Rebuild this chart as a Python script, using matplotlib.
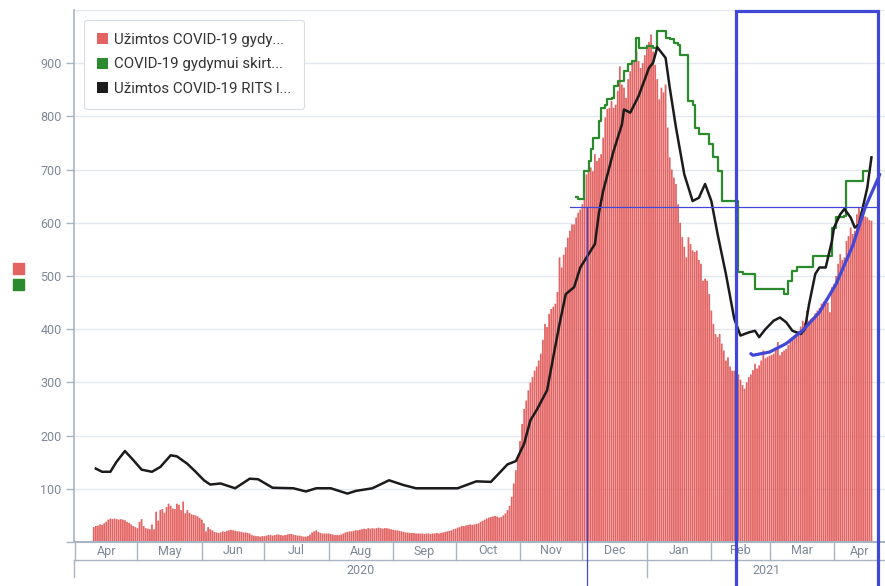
import matplotlib.pyplot as plt
import pandas as pd
from matplotlib.patches import Patch, Rectangle
from matplotlib.transforms import blended_transform_factory

plt.rcParams['font.family'] = ['Roboto', 'DejaVu Sans']

# daily occupied COVID-19 beds (red bars), one list per month, first bar on 2020-04-10
first_day = "2020-04-10"
occ_2020_04 = [28, 30, 31, 33, 32, 35, 38, 42, 44, 43, 44, 43, 42, 43, 42, 41, 38, 36, 33, 30, 28]
occ_2020_05 = [26, 38, 43, 30, 26, 25, 24, 33, 24, 57, 40, 60, 62, 55, 66, 72, 68, 63, 62, 72,
               70, 60, 76, 54, 60, 55, 52, 51, 50, 48, 45]
occ_2020_06 = [42, 35, 20, 28, 24, 22, 19, 18, 17, 18, 20, 19, 21, 22, 23, 22, 21, 20, 20, 19,
               18, 18, 17, 16, 13, 12, 11, 11, 10, 11]
occ_2020_07 = [11, 12, 13, 13, 12, 13, 14, 14, 13, 12, 13, 14, 15, 15, 14, 13, 12, 12, 11, 10,
               10, 11, 14, 18, 20, 22, 19, 17, 16, 16, 16]
occ_2020_08 = [16, 15, 14, 13, 13, 13, 14, 16, 18, 19, 20, 20, 21, 22, 22, 23, 24, 25, 24, 26,
               25, 26, 25, 26, 27, 26, 25, 26, 26, 25, 24]
occ_2020_09 = [23, 22, 22, 21, 20, 19, 18, 18, 17, 17, 17, 16, 16, 16, 16, 15, 16, 16, 15, 16,
               16, 17, 16, 17, 18, 19, 20, 21, 22, 24]
occ_2020_10 = [25, 27, 28, 30, 30, 31, 32, 33, 32, 33, 34, 35, 38, 40, 42, 44, 46, 47, 48, 49,
               48, 46, 47, 50, 54, 60, 68, 85, 110, 135, 160]
occ_2020_11 = [190, 222, 250, 266, 285, 300, 310, 322, 330, 341, 354, 380, 410, 404, 429, 438,
               442, 448, 470, 535, 516, 540, 554, 572, 585, 597, 597, 610, 619, 625]
occ_2020_12 = [635, 645, 691, 698, 704, 697, 729, 716, 722, 729, 760, 798, 814, 816, 829, 816,
               822, 848, 894, 860, 854, 835, 870, 885, 897, 905, 922, 904, 891, 900, 915]
occ_2021_01 = [929, 940, 954, 922, 897, 870, 832, 854, 845, 860, 779, 723, 700, 685, 673, 635,
               600, 573, 555, 535, 573, 560, 548, 545, 548, 530, 523, 491, 495, 491, 466]
occ_2021_02 = [435, 410, 391, 385, 391, 373, 360, 341, 347, 330, 322, 322, 318, 315, 305, 295,
               288, 300, 310, 315, 323, 335, 326, 332, 341, 360, 345, 348]
occ_2021_03 = [350, 352, 354, 365, 376, 351, 357, 360, 363, 370, 379, 385, 388, 392, 397, 405,
               416, 412, 435, 416, 420, 422, 430, 435, 440, 448, 452, 457, 450, 432, 479]
occ_2021_04 = [485, 500, 523, 541, 530, 535, 566, 575, 591, 579, 585, 616, 629, 620, 616, 612,
               610, 605, 604]

# occupied ICU (RITS) beds, black line
icu_dates = ["2020-04-11", "2020-04-14", "2020-04-18", "2020-04-21", "2020-04-25", "2020-04-29",
             "2020-05-03", "2020-05-08", "2020-05-12", "2020-05-17", "2020-05-20", "2020-05-25",
             "2020-05-29", "2020-06-02", "2020-06-05", "2020-06-10", "2020-06-17", "2020-06-24",
             "2020-06-28", "2020-07-05", "2020-07-15", "2020-07-21", "2020-07-26", "2020-08-02",
             "2020-08-10", "2020-08-14", "2020-08-22", "2020-08-30", "2020-09-06", "2020-09-12",
             "2020-10-02", "2020-10-11", "2020-10-18", "2020-10-26", "2020-10-30", "2020-11-03",
             "2020-11-06", "2020-11-09", "2020-11-14", "2020-11-17", "2020-11-20", "2020-11-23",
             "2020-11-27", "2020-11-30", "2020-12-03", "2020-12-07", "2020-12-09", "2020-12-11",
             "2020-12-16", "2020-12-20", "2020-12-21", "2020-12-24", "2020-12-28", "2021-01-02",
             "2021-01-04", "2021-01-06", "2021-01-10", "2021-01-12", "2021-01-15", "2021-01-19",
             "2021-01-23", "2021-01-26", "2021-01-29", "2021-02-01", "2021-02-04", "2021-02-08",
             "2021-02-12", "2021-02-15", "2021-02-19", "2021-02-22", "2021-02-24", "2021-02-27",
             "2021-03-03", "2021-03-06", "2021-03-09", "2021-03-12", "2021-03-16", "2021-03-18",
             "2021-03-20", "2021-03-23", "2021-03-25", "2021-03-28", "2021-03-31", "2021-04-01",
             "2021-04-04", "2021-04-06", "2021-04-09", "2021-04-11", "2021-04-13", "2021-04-17",
             "2021-04-19"]
icu_values = [138, 132, 132, 151, 171, 154, 136, 132, 141, 163, 161, 147, 132, 116, 108, 110,
              101, 119, 118, 102, 101, 95, 101, 101, 91, 96, 101, 116, 107, 101, 101, 114, 113,
              146, 152, 185, 229, 248, 285, 348, 410, 466, 479, 516, 535, 560, 620, 660, 735,
              785, 813, 807, 838, 891, 901, 930, 910, 854, 779, 691, 641, 647, 673, 641, 579,
              504, 420, 388, 394, 397, 385, 400, 416, 422, 413, 397, 391, 400, 447, 504, 516,
              516, 566, 591, 616, 626, 610, 591, 597, 666, 723]

# beds allocated to COVID-19 treatment, green step line (value holds until next date)
alloc_dates = ["2020-11-28", "2020-11-29", "2020-12-02", "2020-12-04", "2020-12-05", "2020-12-06",
               "2020-12-09", "2020-12-10", "2020-12-12", "2020-12-13", "2020-12-15", "2020-12-16",
               "2020-12-18", "2020-12-21", "2020-12-23", "2020-12-25", "2020-12-27", "2020-12-28",
               "2021-01-01", "2021-01-04", "2021-01-06", "2021-01-10", "2021-01-12", "2021-01-14",
               "2021-01-16", "2021-01-17", "2021-01-21", "2021-01-23", "2021-01-24", "2021-01-26",
               "2021-01-31", "2021-02-02", "2021-02-04", "2021-02-06", "2021-02-14", "2021-02-16",
               "2021-02-22", "2021-03-08", "2021-03-10", "2021-03-12", "2021-03-14", "2021-03-22",
               "2021-03-31", "2021-04-02", "2021-04-06", "2021-04-07", "2021-04-15", "2021-04-17"]
alloc_values = [648, 645, 697, 716, 738, 760, 791, 816, 822, 832, 835, 857, 866, 885, 898, 904,
                948, 929, 932, 929, 960, 948, 945, 938, 935, 916, 829, 822, 779, 766, 748, 723,
                698, 641, 507, 504, 476, 466, 491, 510, 516, 538, 591, 610, 613, 679, 698, 698]

month_names = ["Apr", "May", "Jun", "Jul", "Aug", "Sep", "Oct", "Nov", "Dec",
               "Jan", "Feb", "Mar", "Apr"]
year_names = ["2020", "2021"]
legend_labels = ["Užimtos COVID-19 gydy...", "COVID-19 gydymui skirt...",
                 "Užimtos COVID-19 RITS l..."]

# hand-drawn blue marks on top of the chart (date, value)
mark_hline = (("2020-11-25", "2021-04-22"), 630)
mark_vline = ("2020-12-03", 630)
mark_box = ("2021-02-13", "2021-04-22", 998)
mark_curve_dates = ["2021-02-20", "2021-02-21", "2021-03-01", "2021-03-09", "2021-03-17",
                    "2021-03-25", "2021-04-02", "2021-04-10", "2021-04-16", "2021-04-21",
                    "2021-04-23"]
mark_curve_values = [354, 351, 357, 373, 398, 432, 485, 557, 629, 673, 691]

RED = "#e26362"
GREEN = "#2b8a2b"
BLACK = "#1b1b1b"
BLUE = "#4248d6"
AXIS = "#a9b4c2"
GRID = "#e4e8ee"
LABEL = "#7d8898"

occupied = (occ_2020_04 + occ_2020_05 + occ_2020_06 + occ_2020_07 + occ_2020_08 + occ_2020_09
            + occ_2020_10 + occ_2020_11 + occ_2020_12 + occ_2021_01 + occ_2021_02
            + occ_2021_03 + occ_2021_04)
bar_dates = pd.date_range(first_day, periods=len(occupied), freq="D")

start = pd.Timestamp("2020-04-01")
x0 = start - pd.Timedelta(hours=12)
x1 = start + pd.Timedelta(days=390)

fig = plt.figure(figsize=(8.85, 5.86), dpi=100)
ax = fig.add_axes([74 / 885, 44 / 586, 812 / 885, 532 / 586])

bars = ax.bar(bar_dates, occupied, width=0.85, color=RED, edgecolor="none", zorder=2)
for b in bars:
    b.set_snap(False)
ax.plot(pd.to_datetime(alloc_dates), alloc_values, drawstyle="steps-post",
        color=GREEN, lw=1.6, zorder=3)
ax.plot(pd.to_datetime(icu_dates), icu_values, color=BLACK, lw=1.8, zorder=4,
        solid_joinstyle="round")

ax.set_xlim(x0, x1)
ax.set_ylim(0, 1000)
ax.set_yticks(range(0, 1000, 100))
ax.set_yticklabels([""] + [str(v) for v in range(100, 1000, 100)])
ax.tick_params(axis="y", length=6, width=1, color=AXIS, labelcolor=LABEL,
               labelsize=9, pad=3)
for v in range(100, 1001, 100):
    ax.axhline(v, color=GRID, lw=1, zorder=0)

for side in ("top", "right"):
    ax.spines[side].set_visible(False)
ax.spines["left"].set_color(AXIS)
ax.spines["left"].set_linewidth(1.2)
ax.spines["bottom"].set_color(AXIS)
ax.spines["bottom"].set_linewidth(1.5)

# two-row date axis: months, then years
ax.set_xticks([])
bt = blended_transform_factory(ax.transData, ax.transAxes)
row1 = -18 / 532
row2 = -35 / 532
month_starts = pd.date_range("2020-04-01", periods=len(month_names) + 1, freq="MS")
for i, name in enumerate(month_names):
    a = max(month_starts[i], x0)
    b = min(month_starts[i + 1], x1)
    ax.text(a + (b - a) / 2, -9 / 532, name, transform=bt, ha="center", va="center",
            fontsize=9, color=LABEL)
    ax.plot([month_starts[i]] * 2, [0, row1], transform=bt, color=AXIS, lw=1, clip_on=False)
ax.plot([0, 1], [row1, row1], transform=ax.transAxes, color=AXIS, lw=1, clip_on=False)
year_starts = [x0, pd.Timestamp("2021-01-01"), x1]
for i, name in enumerate(year_names):
    a, b = year_starts[i], year_starts[i + 1]
    ax.text(a + (b - a) / 2, -29 / 532, name, transform=bt, ha="center", va="center",
            fontsize=9, color=LABEL)
    ax.plot([a] * 2, [row1, row2], transform=bt, color=AXIS, lw=1, clip_on=False)

handles = [Patch(facecolor=c, edgecolor="none") for c in (RED, GREEN, BLACK)]
leg = ax.legend(handles, legend_labels, loc="upper left", bbox_to_anchor=(0.0123, 0.981),
                borderaxespad=0, fontsize=10.8, handlelength=0.75, handleheight=0.75,
                handletextpad=0.4, labelspacing=0.7, borderpad=0.85, fancybox=True,
                framealpha=1)
leg.get_frame().set_edgecolor("#d9dde3")
leg.get_frame().set_linewidth(0.8)
for t in leg.get_texts():
    t.set_color("#333333")

# stray legend squares at the far left
fig.add_artist(Rectangle((13 / 885, 1 - 274 / 586), 11 / 885, 11 / 586,
                         transform=fig.transFigure, color=RED))
fig.add_artist(Rectangle((13 / 885, 1 - 290 / 586), 11 / 885, 11 / 586,
                         transform=fig.transFigure, color=GREEN))

# blue hand-drawn annotations
(h_a, h_b), h_val = mark_hline
ax.plot(pd.to_datetime([h_a, h_b]), [h_val, h_val], color=BLUE, lw=0.9, zorder=6,
        clip_on=False)
v_date, v_top = mark_vline
ax.plot(pd.to_datetime([v_date, v_date]), [v_top, -90], color=BLUE, lw=0.9, zorder=6,
        clip_on=False)
b_a, b_b, b_top = mark_box
bx0, bx1 = pd.Timestamp(b_a), pd.Timestamp(b_b)
ax.plot([bx0, bx0, bx1, bx1], [-90, b_top, b_top, -90], color=BLUE, lw=2.3, zorder=6,
        clip_on=False, solid_joinstyle="miter")
ax.plot(pd.to_datetime(mark_curve_dates), mark_curve_values, color=BLUE, lw=2.3,
        zorder=6, solid_capstyle="round", clip_on=False)

fig.savefig("out.png", dpi=100)
